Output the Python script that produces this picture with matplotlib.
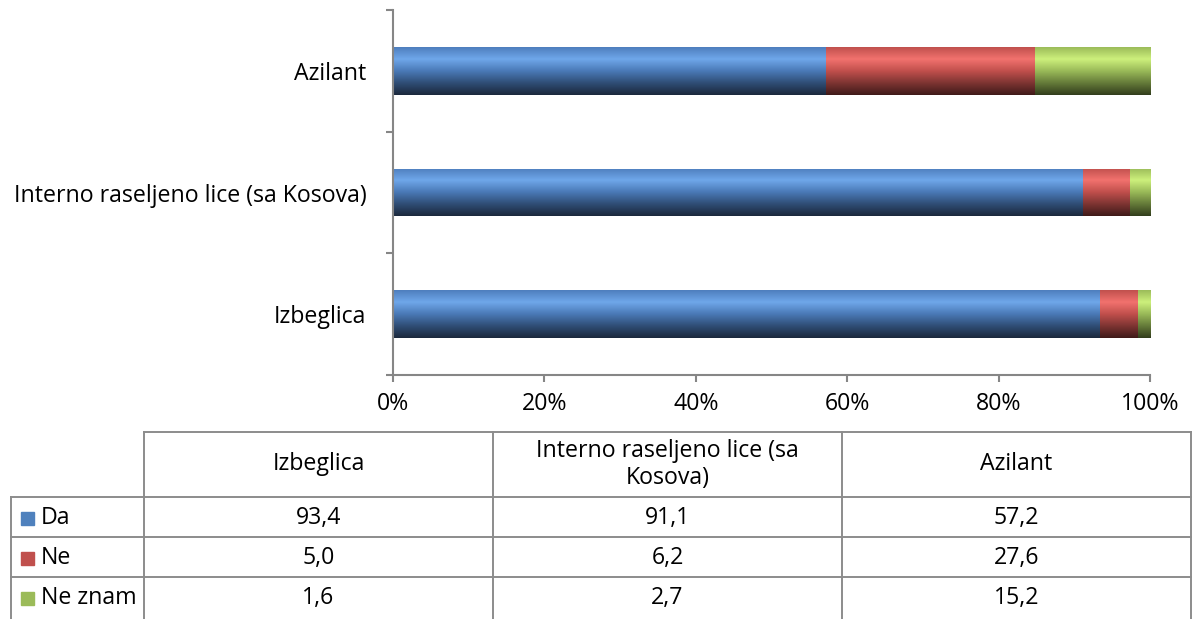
import numpy as np
import matplotlib
matplotlib.use("Agg")
import matplotlib.pyplot as plt
from matplotlib.colors import LinearSegmentedColormap

plt.rcParams['font.family'] = ['Open Sans', 'DejaVu Sans']
FS = 16.7

categories = ["Izbeglica", "Interno raseljeno lice (sa Kosova)", "Azilant"]
table_headers = ["Izbeglica", "Interno raseljeno lice (sa\nKosova)", "Azilant"]
series_names = ["Da", "Ne", "Ne znam"]
da = [93.4, 91.1, 57.2]
ne = [5.0, 6.2, 27.6]
ne_znam = [1.6, 2.7, 15.2]
series_values = [da, ne, ne_znam]
x_ticks = [0, 20, 40, 60, 80, 100]

base_colors = ["#4f81bd", "#c0504d", "#9bbb59"]
grad_stops = [
    ["#4e7ebd", "#6fa7ea", "#4a79b6", "#2f4d75", "#1b283c"],
    ["#c0504d", "#f2726e", "#c04f4c", "#7d3432", "#3f1a19"],
    ["#9bbb59", "#cdf07c", "#99b958", "#647a39", "#323d1c"],
]

W, H = 1195, 619
fig = plt.figure(figsize=(W / 100, H / 100), dpi=100)

ax_l, ax_r, ax_t, ax_b = 393, 1150, 10, 375
ax = fig.add_axes([ax_l / W, 1 - ax_b / H, (ax_r - ax_l) / W, (ax_b - ax_t) / H])

totals = np.array(da) + np.array(ne) + np.array(ne_znam)
y = np.arange(len(categories))
left = np.zeros(len(categories))
bar_h = 0.39
for vals, col, stops in zip(series_values, base_colors, grad_stops):
    pct = np.array(vals) / totals * 100
    bars = ax.barh(y, pct, left=left, height=bar_h, color=col, edgecolor='none')
    cmap = LinearSegmentedColormap.from_list("g", stops)
    grad = np.linspace(0, 1, 256).reshape(-1, 1)
    for b in bars:
        x0, y0 = b.get_x(), b.get_y()
        w, h = b.get_width(), b.get_height()
        im = ax.imshow(grad, cmap=cmap, aspect='auto',
                       extent=[x0, x0 + w, y0, y0 + h], origin='upper',
                       interpolation='bilinear', zorder=2)
        im.set_clip_path(b)
    left = left + pct

ax.set_xlim(0, 100)
ax.set_ylim(-0.5, len(categories) - 0.5)
for s in ['top', 'right']:
    ax.spines[s].set_visible(False)
for s in ['left', 'bottom']:
    ax.spines[s].set_color('#868686')
    ax.spines[s].set_linewidth(1.5)

ax.set_xticks(x_ticks)
ax.set_xticklabels([f"{t}%" for t in x_ticks], fontsize=FS)
ax.set_yticks(np.arange(-0.5, len(categories), 1.0))
ax.set_yticklabels([])
ax.set_yticks(y, minor=True)
ax.set_yticklabels(categories, minor=True, fontsize=FS)
ax.tick_params(axis='y', which='major', length=5, width=1.5, color='#868686', direction='out')
ax.tick_params(axis='y', which='minor', length=0, pad=19)
ax.tick_params(axis='x', length=5, width=1.5, color='#868686', direction='out', pad=7)

# data table
tax = fig.add_axes([0, 0, 1, 1])
tax.set_xlim(0, W)
tax.set_ylim(H, 0)
tax.axis('off')
lc = '#8c8c8c'
lw = 1.4
col_x = [144, 493, 842, 1191]
row_y = [432, 497, 537, 577, 619]
lab_x0 = 11
tax.plot([col_x[0], col_x[-1]], [row_y[0]] * 2, color=lc, lw=lw)
for yy in row_y[1:4]:
    tax.plot([lab_x0, col_x[-1]], [yy, yy], color=lc, lw=lw)
for xx in col_x:
    tax.plot([xx, xx], [row_y[0], H], color=lc, lw=lw)
tax.plot([lab_x0, lab_x0], [row_y[1], H], color=lc, lw=lw)

for j, hdr in enumerate(table_headers):
    cx = (col_x[j] + col_x[j + 1]) / 2
    tax.text(cx, (row_y[0] + row_y[1]) / 2, hdr, ha='center', va='center',
             fontsize=FS, linespacing=1.2)
for i, (name, vals, col) in enumerate(zip(series_names, series_values, base_colors)):
    cy = (row_y[i + 1] + row_y[i + 2]) / 2 + (1 if i < 2 else 0)
    tax.add_patch(plt.Rectangle((21, cy - 6.5), 13, 13, color=col))
    tax.text(41, cy, name, ha='left', va='center', fontsize=FS)
    for j, v in enumerate(vals):
        cx = (col_x[j] + col_x[j + 1]) / 2
        tax.text(cx, cy, f"{v:.1f}".replace('.', ','), ha='center', va='center', fontsize=FS)

fig.savefig("out.png", dpi=100)
